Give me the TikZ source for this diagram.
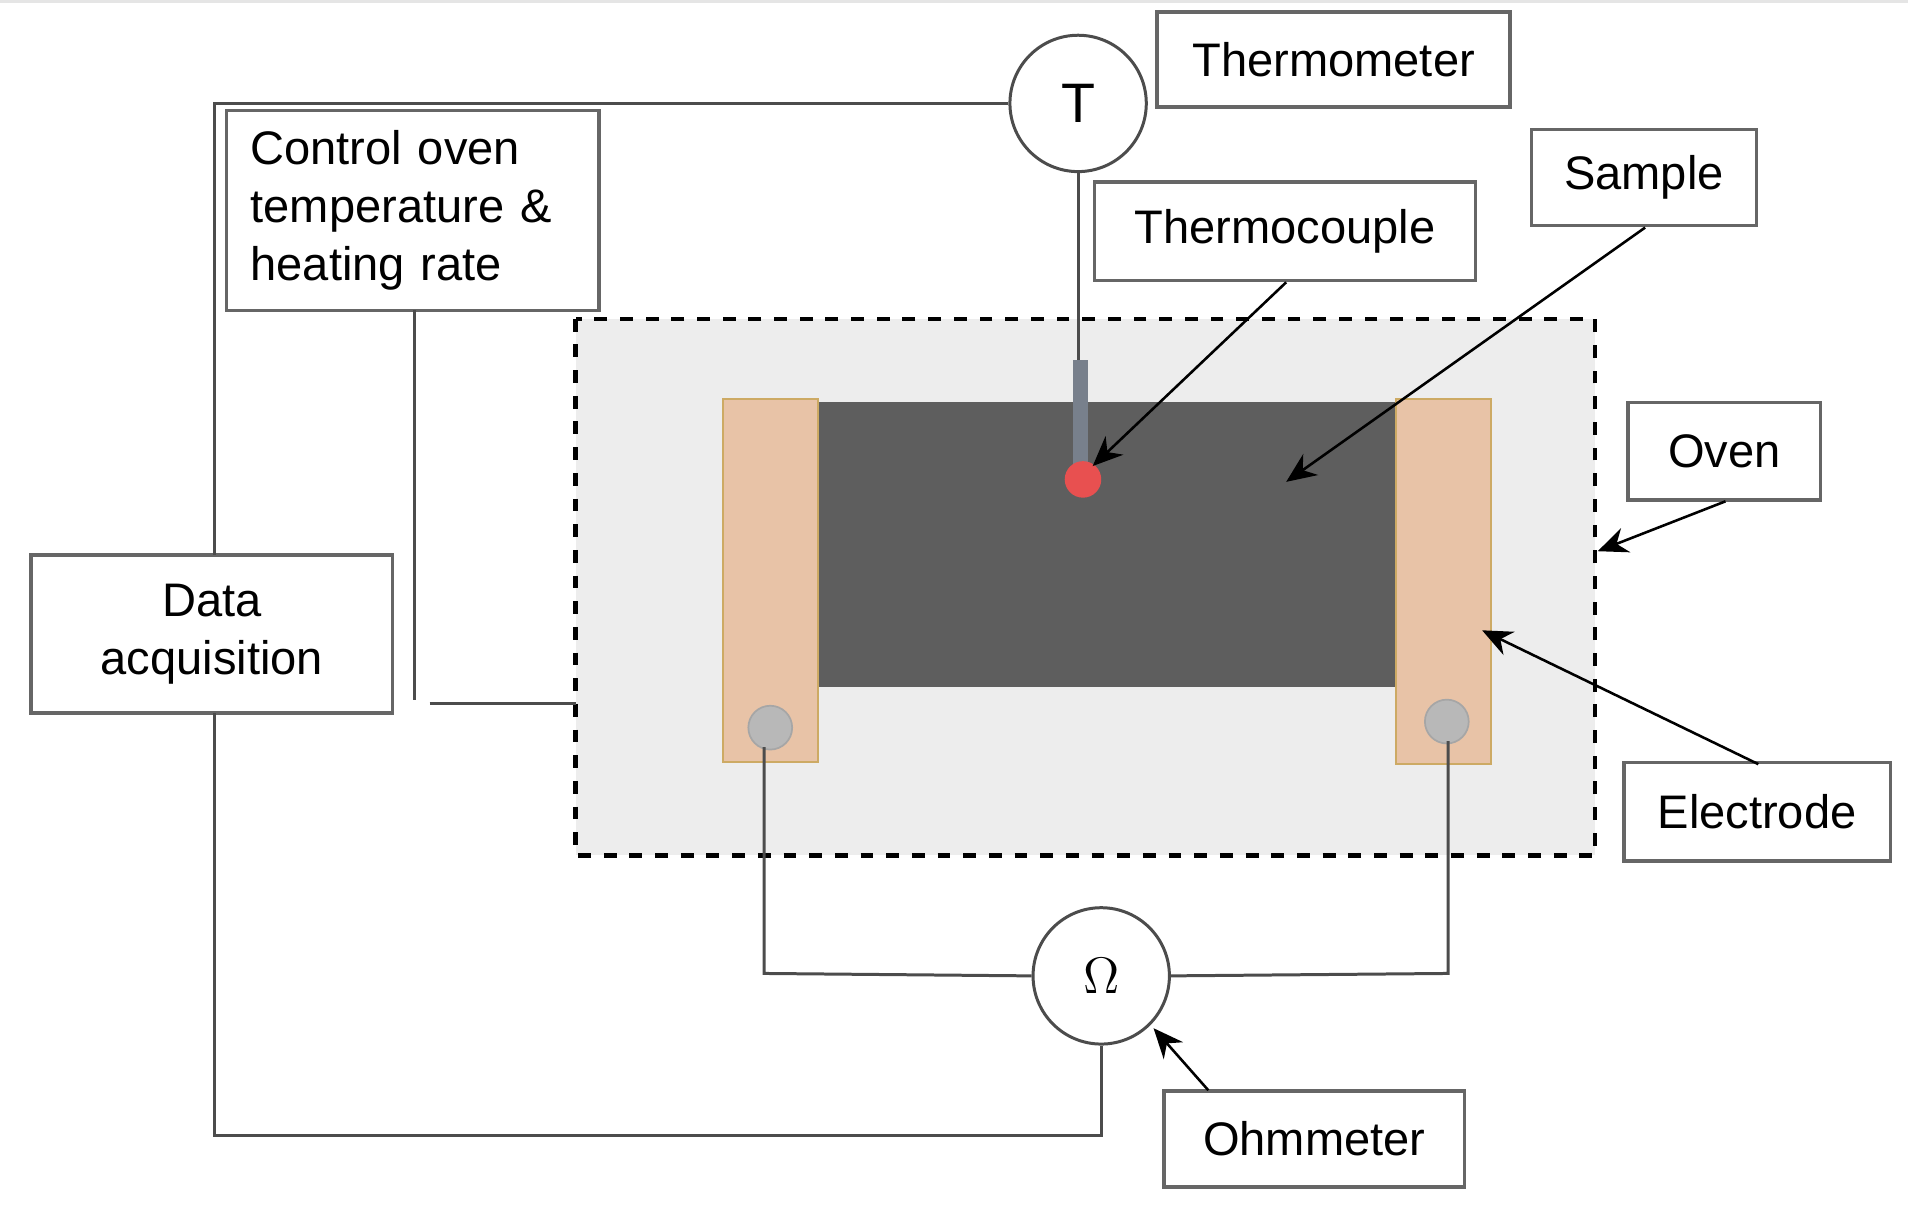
\documentclass[tikz,border=0pt]{standalone}
\usepackage{fontspec}
\setmainfont{Liberation Sans}
\usetikzlibrary{arrows.meta}
\definecolor{probe}{RGB}{120,128,140}
\definecolor{tcred}{RGB}{232,80,80}
\definecolor{elfill}{RGB}{232,195,167}
\definecolor{eldraw}{RGB}{205,170,100}
\begin{document}
\begin{tikzpicture}[x=0.01cm,y=-0.01cm,
 box/.style={draw=black!60,line width=0.8pt,fill=white,inner sep=0,font=\fontsize{11}{13.5}\selectfont},
 wire/.style={draw=black!70,line width=0.7pt},
 arr/.style={draw=black,line width=0.6pt,-{Stealth[length=7pt,width=6pt]}},
 elec/.style={draw=eldraw,fill=elfill,inner sep=0},
 dot/.style={circle,fill=black!28,draw=black!35,minimum size=0.36cm,inner sep=0},
 meter/.style={circle,draw=black!70,line width=0.7pt,fill=white,minimum size=1.12cm,inner sep=0,font=\fontsize{13}{15}\selectfont}]
\useasboundingbox (0,0) rectangle (1568,995);
\draw[black!10,line width=1pt] (0,1) -- (1568,1);
% oven
\draw[dashed,line width=1pt,fill=black!7] (473,262) rectangle (1311,703);
\coordinate (ovenR) at (1313,453);
\fill[black!63] (672,330) rectangle (1147,565);
\node[elec,minimum width=0.78cm,minimum height=2.98cm] (eL) at (633,477) {};
\node[elec,minimum width=0.78cm,minimum height=3.0cm] (eR) at (1186,478) {};
\node[dot] (cL) at (633,598) {};
\node[dot] (cR) at (1189,593) {};
% thermocouple
\fill[probe] (882,296) rectangle (894,385);
\node[circle,fill=tcred,minimum size=0.3cm,inner sep=0] (tc) at (890,394) {};
\coordinate (tcTop) at (886,296);
\coordinate (sampleP) at (1057,396);
\coordinate (tcP) at (898,383);
\coordinate (elP) at (1218,518);
% meters
\node[meter] (T) at (886,85) {T};
\node[meter] (O) at (905,802) {$\Omega$};
% boxes
\node[box,minimum width=2.9cm,minimum height=0.78cm] (thm) at (1096,49) {Thermometer};
\node[box,minimum width=3.06cm,minimum height=1.64cm,text width=2.66cm,align=left] (ctl) at (339,173) {Control oven\\temperature $\&$\\heating rate};
\node[box,minimum width=2.97cm,minimum height=1.3cm,align=center] (da) at (174,521) {Data\\acquisition};
\node[box,minimum width=3.13cm,minimum height=0.81cm] (tcb) at (1056,190) {Thermocouple};
\node[box,minimum width=1.85cm,minimum height=0.79cm] (sb) at (1351,146) {Sample};
\node[box,minimum width=1.58cm,minimum height=0.8cm] (ob) at (1417,371) {Oven};
\node[box,minimum width=2.19cm,minimum height=0.81cm] (eb) at (1444,667) {Electrode};
\node[box,minimum width=2.47cm,minimum height=0.79cm] (ohb) at (1080,936) {Ohmmeter};
% wires
\draw[wire] (T.west) -- (176,85) -- (176,456);
\draw[wire] (T.south) -- (tcTop);
\draw[wire] (341,255) -- (341,575);
\draw[wire] (353,578) -- (473,578);
\draw[wire] (176,586) -- (176,933) -- (905,933) -- (O.south);
\draw[wire] (628,614) -- (628,800) -- (O.west);
\draw[wire] (1190,609) -- (1190,800) -- (O.east);
% arrows
\draw[arr] (1057,232) -- (tcP);
\draw[arr] (1352,187) -- (sampleP);
\draw[arr] (1418,412) -- (ovenR);
\draw[arr] (1445,628) -- (elP);
\draw[arr] (993,896) -- (948,845);
\end{tikzpicture}
\end{document}
